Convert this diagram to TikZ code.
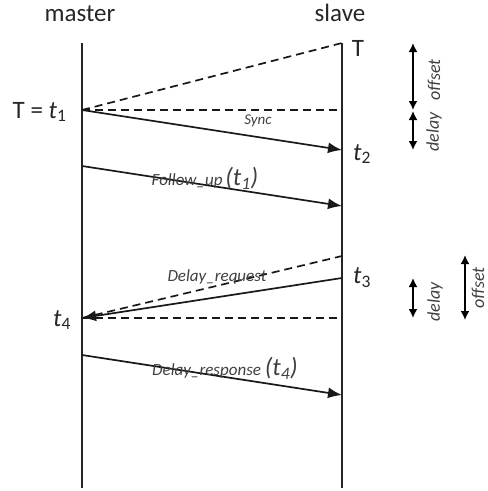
\documentclass[tikz,border=0pt]{standalone}
\usepackage{fontspec}
\setmainfont{Carlito}
\usetikzlibrary{arrows.meta,positioning}

\newcommand{\tlab}[1]{\textit{t}\textsubscript{#1}}

\begin{document}
\begin{tikzpicture}[x=1pt, y=-1pt,
  head/.style={font=\fontsize{25}{28}\selectfont, text=black!85},
  life/.style={line width=1.7pt, black!85},
  msg/.style={line width=1.7pt, black!90, -{Latex[length=14pt,width=11pt]}},
  guide/.style={line width=1.7pt, black!90, dash pattern=on 8pt off 5pt},
  span/.style={line width=1.7pt, {Latex[length=9pt,width=9pt]}-{Latex[length=9pt,width=9pt]}},
  lbl/.style={font=\itshape\fontsize{17}{19}\selectfont, text=black!75},
  tname/.style={font=\fontsize{25}{28}\selectfont, text=black!85},
  side/.style={rotate=90, font=\itshape\fontsize{18}{20}\selectfont, text=black!75}
]
  \useasboundingbox (0,0) rectangle (488,491);

  % Headings
  \node[head] (master) at (80,14) {master};
  \node[head] (slave) at (340,13) {slave};

  % Lifelines
  \coordinate (mtop) at (82,43);
  \coordinate (mbot) at (82,488);
  \coordinate (stop) at (342,43);
  \coordinate (sbot) at (342,488);
  \draw[life] (mtop) -- (mbot);
  \draw[life] (stop) -- (sbot);

  % Points on the lines
  \coordinate (m1) at (82,110);
  \coordinate (s1) at (342,110);
  \coordinate (s2) at (342,150);
  \coordinate (mf) at (82,166);
  \coordinate (sf) at (342,206);
  \coordinate (s3a) at (342,256);
  \coordinate (s3) at (342,278);
  \coordinate (m4) at (82,318);
  \coordinate (s4) at (342,318);
  \coordinate (mr) at (82,355);
  \coordinate (sr) at (342,395);

  % Time labels
  \node[tname] (tT) at (358,48) {T};
  \node[tname, anchor=east] (tt1) at (70,112) {T = \tlab{1}};
  \node[tname] (tt2) at (362,154) {\tlab{2}};
  \node[tname] (tt3) at (362,278) {\tlab{3}};
  \node[tname] (tt4) at (62,320) {\tlab{4}};

  % Sync
  \draw[guide] (m1) -- (stop);
  \draw[guide] (m1) -- (s1);
  \draw[msg] (m1) -- (s2);
  \node[lbl, font=\itshape\fontsize{15}{17}\selectfont] (sync) at (258,121) {Sync};

  % Follow_up
  \draw[msg] (mf) -- (sf);
  \node[lbl] (follow) at (205,178) {Follow\_up\,{\fontsize{25}{27}\selectfont(\tlab{1})}};

  % Delay_request
  \draw[guide] (m4) -- (s3a);
  \draw[guide] (m4) -- (s4);
  \draw[msg] (s3) -- (m4);
  \node[lbl] (dreq) at (217,277) {Delay\_request};

  % Delay_response
  \draw[msg] (mr) -- (sr);
  \node[lbl] (dresp) at (225,368) {Delay\_response {\fontsize{25}{27}\selectfont(\tlab{4})}};

  % Offset and delay spans, top
  \coordinate (oa) at (413,43);
  \coordinate (ob) at (413,110);
  \coordinate (da) at (413,111);
  \coordinate (db) at (413,150);
  \draw[span] (oa) -- (ob);
  \draw[span] (da) -- (db);
  \node[side] (off1) at (434,80) {offset};
  \node[side] (del1) at (434,132) {delay};

  % Offset and delay spans, bottom
  \coordinate (dc) at (413,278);
  \coordinate (dd) at (413,318);
  \coordinate (oc) at (465,255);
  \coordinate (od) at (465,320);
  \draw[span] (dc) -- (dd);
  \draw[span] (oc) -- (od);
  \node[side] (del2) at (435,302) {delay};
  \node[side] (off2) at (478,288) {offset};
\end{tikzpicture}
\end{document}
